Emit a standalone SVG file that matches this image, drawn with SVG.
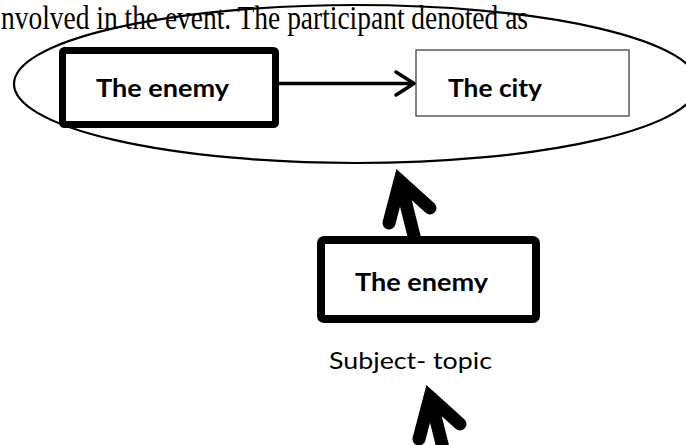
<svg xmlns="http://www.w3.org/2000/svg" width="686" height="445" viewBox="0 0 686 445">
<style>
.serif{font-family:"Liberation Serif","Times New Roman",serif;font-size:28.5px;fill:#000}
.lbl{font-family:Lato,"Open Sans","Liberation Sans",sans-serif;font-weight:700;font-size:24px;fill:#000}
.reg{font-family:Lato,"Open Sans","Liberation Sans",sans-serif;font-size:24px;fill:#000}
.thick{fill:none;stroke:#000;stroke-width:13;stroke-linecap:round;stroke-linejoin:miter}
</style>
<defs>
<clipPath id="clipLower"><rect x="317" y="236" width="223" height="57"/></clipPath>
<g id="bigArrow">
<line x1="401" y1="184" x2="415" y2="240" stroke="#000" stroke-width="13"/>
<polyline class="thick" points="389,223 400,181 430,208"/>
</g>
</defs>
<rect width="686" height="445" fill="#fff"/>
<text class="serif" transform="translate(1,29) scale(1,1.15)" x="0" y="0" textLength="527" lengthAdjust="spacingAndGlyphs">nvolved in the event. The participant denoted as</text>
<ellipse id="group" cx="356" cy="84" rx="342" ry="79" fill="none" stroke="#000" stroke-width="2.2"/>
<g id="connectors">
<line x1="279" y1="83.5" x2="413" y2="83.5" stroke="#000" stroke-width="3.5"/>
<polyline points="396,72 414,83.5 396,95" fill="none" stroke="#000" stroke-width="3.5" stroke-linecap="round"/>
<use href="#bigArrow"/>
<use href="#bigArrow" transform="translate(30,216)"/>
</g>
<g id="node-enemy">
<rect x="62.5" y="50.5" width="213" height="74" rx="2" fill="#fff" stroke="#000" stroke-width="7"/>
<text class="lbl" x="96" y="97" textLength="133" lengthAdjust="spacingAndGlyphs">The enemy</text>
</g>
<g id="node-city">
<rect x="416" y="50" width="213" height="66" fill="#fff" stroke="#444" stroke-width="1.3"/>
<text class="lbl" x="448" y="97" textLength="94" lengthAdjust="spacingAndGlyphs">The city</text>
</g>
<g id="node-enemy-topic">
<rect x="321" y="240" width="215" height="79" rx="3" fill="#fff" stroke="#000" stroke-width="8"/>
<text class="lbl" x="355" y="290.5" textLength="133" lengthAdjust="spacingAndGlyphs" clip-path="url(#clipLower)">The enemy</text>
</g>
<text class="reg" x="329" y="369" textLength="163" lengthAdjust="spacingAndGlyphs">Subject- topic</text>
</svg>
